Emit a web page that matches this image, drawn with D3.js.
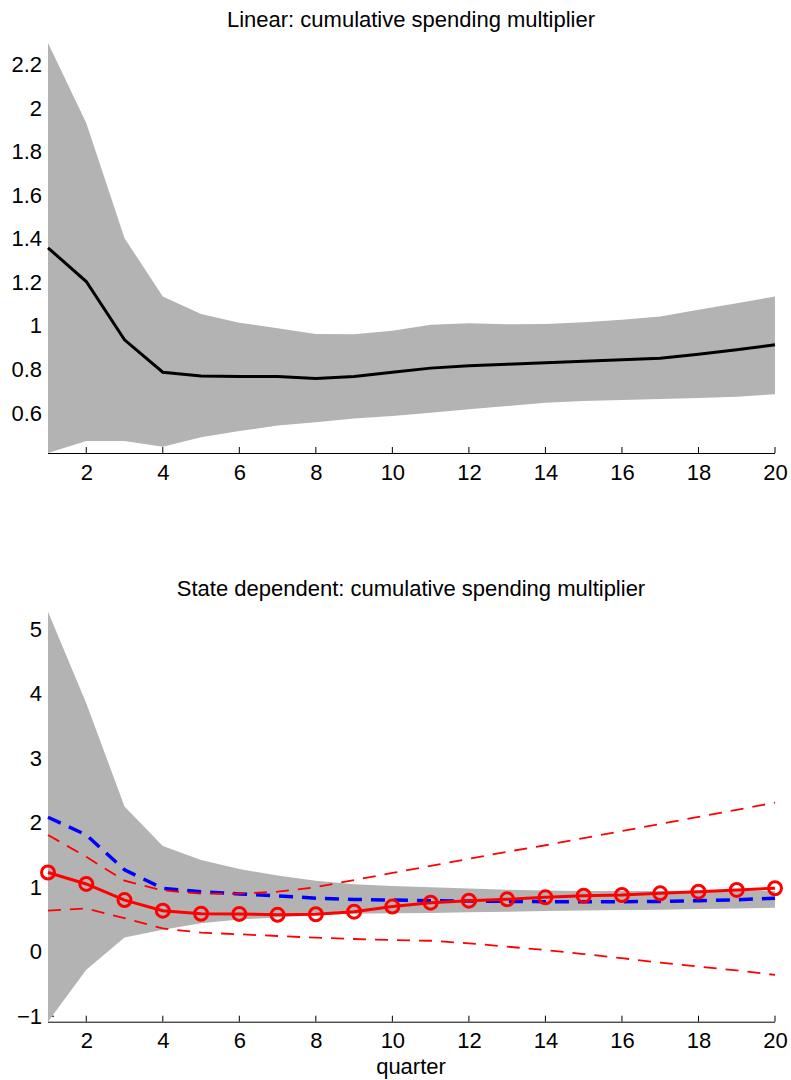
<!DOCTYPE html>
<html>
<head>
<meta charset="utf-8">
<script src="https://cdn.jsdelivr.net/npm/d3@7"></script>
<style>
  body { margin: 0; background: #fff; }
  text { font-family: "Liberation Sans", Arial, sans-serif; fill: #000; }
</style>
</head>
<body>
<svg id="chart"></svg>
<script>
// quarters 1..20
const quarters = d3.range(1, 21);
const xTicks = [2, 4, 6, 8, 10, 12, 14, 16, 18, 20];

// Linear model
const linMean = [1.359, 1.204, 0.936, 0.787, 0.770, 0.767, 0.767, 0.758, 0.767, 0.787,
  0.806, 0.817, 0.824, 0.831, 0.838, 0.844, 0.851, 0.870, 0.890, 0.913];
const linUpper = [2.30, 1.932, 1.403, 1.135, 1.055, 1.015, 0.989, 0.963, 0.962, 0.978,
  1.005, 1.012, 1.008, 1.009, 1.017, 1.028, 1.043, 1.074, 1.104, 1.135];
const linLower = [0.416, 0.471, 0.471, 0.445, 0.488, 0.517, 0.542, 0.557, 0.575, 0.586,
  0.601, 0.617, 0.632, 0.647, 0.655, 0.660, 0.664, 0.669, 0.675, 0.686];
const linYTicks = [0.6, 0.8, 1, 1.2, 1.4, 1.6, 1.8, 2, 2.2];

// State dependent model
const stUpper = [5.27, 3.85, 2.25, 1.64, 1.42, 1.28, 1.18, 1.10, 1.045, 1.02,
  1.00, 0.98, 0.96, 0.95, 0.94, 0.94, 0.94, 0.94, 0.94, 0.94];
const stLower = [-1.085, -0.28, 0.22, 0.34, 0.44, 0.50, 0.53, 0.57, 0.59, 0.595,
  0.60, 0.61, 0.62, 0.63, 0.64, 0.645, 0.65, 0.66, 0.67, 0.68];
const blueDashed = [2.084, 1.81, 1.27, 0.98, 0.93, 0.895, 0.864, 0.83, 0.81, 0.80,
  0.79, 0.785, 0.78, 0.775, 0.775, 0.775, 0.78, 0.79, 0.805, 0.83];
const redMean = [1.228, 1.050, 0.80, 0.636, 0.588, 0.585, 0.572, 0.58, 0.62, 0.70,
  0.760, 0.791, 0.812, 0.843, 0.868, 0.879, 0.905, 0.930, 0.957, 0.983];
const redUpper = [1.81, 1.47, 1.10, 0.95, 0.90, 0.90, 0.93, 1.00, 1.11, 1.22,
  1.33, 1.44, 1.55, 1.65, 1.76, 1.87, 1.98, 2.09, 2.20, 2.31];
const redLower = [0.636, 0.67, 0.52, 0.36, 0.295, 0.27, 0.243, 0.217, 0.197, 0.18,
  0.17, 0.13, 0.078, 0.026, -0.036, -0.10, -0.17, -0.23, -0.29, -0.36];
const stYTicks = [-1, 0, 1, 2, 3, 4, 5];

const W = 791, H = 1080;
const svg = d3.select("#chart").attr("width", W).attr("height", H);

const xScale = d3.scaleLinear().domain([1, 20]).range([48, 775]);

function panel(opts) {
  const g = svg.append("g");
  const yScale = d3.scaleLinear()
    .domain(d3.extent(opts.lower.concat(opts.upper)))
    .range([opts.bottom, opts.top]);

  // axes (drawn below the band, like matlab)
  const xAxis = g.append("g")
    .attr("transform", `translate(0,${opts.bottom})`)
    .call(d3.axisBottom(xScale).tickValues(xTicks).tickSize(0).tickPadding(11).tickFormat(d3.format("d")));
  xAxis.select(".domain").remove();
  xAxis.selectAll("text").attr("font-size", 22).attr("font-family", "Liberation Sans, Arial, sans-serif");

  const yAxis = g.append("g")
    .attr("transform", "translate(48,0)")
    .call(d3.axisLeft(yScale).tickValues(opts.yTicks).tickSize(0).tickPadding(6)
      .tickFormat(d => d < 0 ? "\u2212" + Math.abs(d) : String(d)));
  yAxis.select(".domain").remove();
  yAxis.selectAll("text").attr("font-size", 22).attr("font-family", "Liberation Sans, Arial, sans-serif");
  // inner y ticks
  g.selectAll(".ytick").data(opts.yTicks).enter().append("line")
    .attr("x1", 48).attr("x2", 54)
    .attr("y1", d => yScale(d)).attr("y2", d => yScale(d))
    .attr("stroke", "#000").attr("stroke-width", 1);

  const band = d3.area()
    .x((d, i) => xScale(quarters[i]))
    .y0((d, i) => yScale(opts.lower[i]))
    .y1((d, i) => yScale(opts.upper[i]));
  g.append("path").datum(opts.upper).attr("d", band).attr("fill", "#b3b3b3");

  // x axis line and upward ticks
  g.append("line")
    .attr("x1", 48).attr("x2", 775)
    .attr("y1", opts.bottom + 0.5).attr("y2", opts.bottom + 0.5)
    .attr("stroke", "#000").attr("stroke-width", 1);
  g.selectAll(".xtick").data(xTicks).enter().append("line")
    .attr("x1", d => xScale(d)).attr("x2", d => xScale(d))
    .attr("y1", opts.bottom).attr("y2", opts.bottom - 6)
    .attr("stroke", "#000").attr("stroke-width", 1);

  g.append("text")
    .attr("x", 411).attr("y", opts.top - 16)
    .attr("text-anchor", "middle").attr("font-size", 22)
    .text(opts.title);

  return { g, yScale };
}

// top panel
const linPanel = panel({
  top: 43, bottom: 453, lower: linLower, upper: linUpper,
  yTicks: linYTicks, title: "Linear: cumulative spending multiplier"
});
const lineTop = d3.line().x((d, i) => xScale(quarters[i])).y(d => linPanel.yScale(d));
linPanel.g.append("path").datum(linMean).attr("d", lineTop)
  .attr("fill", "none").attr("stroke", "#000").attr("stroke-width", 3);

// bottom panel
const stPanel = panel({
  top: 611.7, bottom: 1021.7, lower: stLower, upper: stUpper,
  yTicks: stYTicks, title: "State dependent: cumulative spending multiplier"
});
const lineBot = d3.line().x((d, i) => xScale(quarters[i])).y(d => stPanel.yScale(d));

stPanel.g.append("path").datum(blueDashed).attr("d", lineBot)
  .attr("fill", "none").attr("stroke", "#0000ff").attr("stroke-width", 3.5)
  .attr("stroke-dasharray", "14,9");
[redUpper, redLower].forEach(s => {
  stPanel.g.append("path").datum(s).attr("d", lineBot)
    .attr("fill", "none").attr("stroke", "#ff0000").attr("stroke-width", 1.8)
    .attr("stroke-dasharray", "13,9");
});
stPanel.g.append("path").datum(redMean).attr("d", lineBot)
  .attr("fill", "none").attr("stroke", "#ff0000").attr("stroke-width", 3);
stPanel.g.selectAll(".dot").data(redMean).enter().append("circle")
  .attr("cx", (d, i) => xScale(quarters[i]))
  .attr("cy", d => stPanel.yScale(d))
  .attr("r", 6.5)
  .attr("fill", "none").attr("stroke", "#ff0000").attr("stroke-width", 3);

svg.append("text")
  .attr("x", 411).attr("y", 1074)
  .attr("text-anchor", "middle").attr("font-size", 22)
  .text("quarter");
</script>
</body>
</html>
